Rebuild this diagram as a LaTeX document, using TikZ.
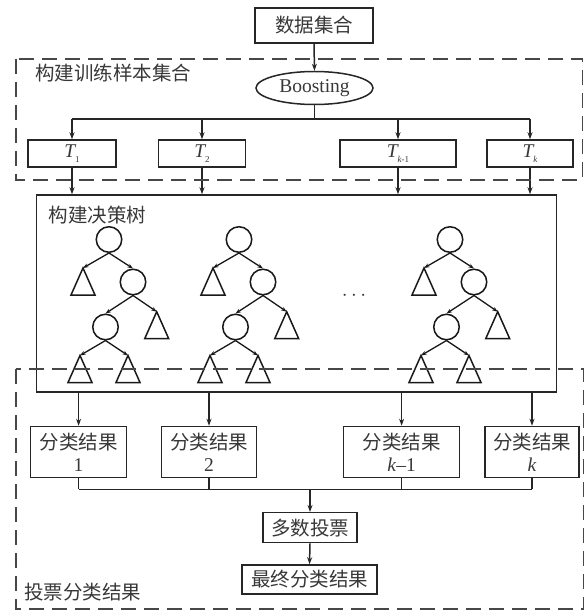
\documentclass[tikz,border=0pt]{standalone}
\usepackage{fontspec}
\setmainfont{Liberation Serif}
\newfontfamily\cjk{Noto Sans CJK SC}
\usetikzlibrary{shapes.geometric,arrows.meta}
\tikzset{
  every node/.style={font=\fontsize{19.5}{22}\selectfont, text=black!78},
  box/.style={draw=black!85, line width=1.5pt, inner sep=0pt, align=center},
  dbox/.style={draw=black!72, line width=1.9pt, dash pattern=on 15pt off 8pt},
  arr/.style={draw=black!85, line width=1.5pt, -{Stealth[length=7pt,width=5pt]}},
  ln/.style={draw=black!85, line width=1.5pt},
  circ/.style={draw=black!90, line width=1.5pt, circle, minimum size=25.5pt, inner sep=0pt},
  tri/.style={draw=black!90, line width=1.5pt, line join=miter},
  tarr/.style={draw=black!90, line width=1.3pt, -{Stealth[length=5.5pt,width=4pt]}},
  lbl/.style={anchor=west, inner sep=0pt}
}
\newcommand{\Tsub}[1]{{\itshape T}\raisebox{-5pt}{\fontsize{9}{9}\selectfont #1}}
\begin{document}
\begin{tikzpicture}[x=1pt,y=-1pt]
\useasboundingbox (0,0) rectangle (586,612);
\fill[white] (0,0) rectangle (586,612);

% top
\node[box, minimum width=118pt, minimum height=35pt] (data) at (314,25.5) {\cjk 数据集合};
\node[box, ellipse, minimum width=117pt, minimum height=33pt] (boost) at (314.5,88) {Boosting};
\node[lbl] (lab1) at (35,73) {\cjk 构建训练样本集合};

\node[box, minimum width=88pt, minimum height=27pt] (T1) at (72,153.5) {\Tsub{1}};
\node[box, minimum width=87pt, minimum height=27pt] (T2) at (202,153.5) {\Tsub{2}};
\node[box, minimum width=116pt, minimum height=27pt] (T3) at (398,153.5) {\Tsub{\itshape k\upshape -1}};
\node[box, minimum width=86pt, minimum height=27pt] (T4) at (530,153.5) {\Tsub{\itshape k}};

\coordinate (hb) at (314.5,119);
\draw[arr] (data.south) -- (boost.north);
\draw[ln] (boost.south) -- (hb);
\draw[ln] (hb -| T1.north) -- (hb -| T4.north);
\foreach \n in {T1,T2,T3,T4} \draw[arr] (hb -| \n.north) -- (\n.north);

% big box
\node[box, minimum width=520pt, minimum height=197pt] (big) at (296.6,293.5) {};
\node[lbl] (lab2) at (48.6,215) {\cjk 构建决策树};
\foreach \n in {T1,T2,T3,T4} \draw[arr] (\n.south) -- (\n.south |- big.north);

% trees
\foreach \i/\dx in {1/109,2/239,3/450} {
  \node[circ] (r\i) at (\dx,239.5) {};
  \coordinate (a\i) at (\dx-26,268);
  \node[circ] (c\i) at (\dx+24,282) {};
  \coordinate (b\i) at (\dx+47.7,311.7);
  \node[circ] (d\i) at (\dx-3.5,327) {};
  \coordinate (e\i) at (\dx-29,355.5);
  \coordinate (f\i) at (\dx+19,355.5);
  \foreach \t in {a,b,e,f} \draw[tri] (\t\i) -- ++(-12,27) -- ++(24,0) -- cycle;
  \draw[tarr] (r\i.south) -- (a\i);
  \draw[tarr] (r\i.south) -- (c\i.north);
  \draw[tarr] (c\i.south) -- (d\i.north);
  \draw[tarr] (c\i.south) -- (b\i);
  \draw[tarr] (d\i.south) -- (e\i);
  \draw[tarr] (d\i.south) -- (f\i);
}
\node (dots) at (354,296) {$\cdots$};

% results
\node[box, minimum width=96pt, minimum height=51pt] (C1) at (78.6,452) {{\cjk 分类结果}\\1};
\node[box, minimum width=95pt, minimum height=51pt] (C2) at (209,452) {{\cjk 分类结果}\\2};
\node[box, minimum width=116pt, minimum height=51pt] (C3) at (401.6,452) {{\cjk 分类结果}\\\textit{k}–1};
\node[box, minimum width=94pt, minimum height=51pt] (C4) at (532,452) {{\cjk 分类结果}\\\textit{k}};
\foreach \n in {C1,C2,C3,C4} \draw[arr] (big.south -| \n.north) -- (\n.north);

\node[box, minimum width=94pt, minimum height=30pt] (vote) at (310,527.7) {\cjk 多数投票};
\node[box, minimum width=135pt, minimum height=29pt] (final) at (309.5,579.5) {\cjk 最终分类结果};
\coordinate (j) at (310,489.3);
\foreach \n in {C1,C2,C3,C4} \draw[ln] (\n.south) -- (j -| \n.south);
\draw[ln] (j -| C1.south) -- (j -| C4.south);
\draw[arr] (j) -- (vote.north);
\draw[arr] (vote.south) -- (final.north);
\node[lbl] (lab3) at (24,592) {\cjk 投票分类结果};

% dashed frames
\draw[dbox] (16,59) rectangle (582.5,180);
\draw[dbox] (16,369) rectangle (583.5,609);
\end{tikzpicture}
\end{document}
